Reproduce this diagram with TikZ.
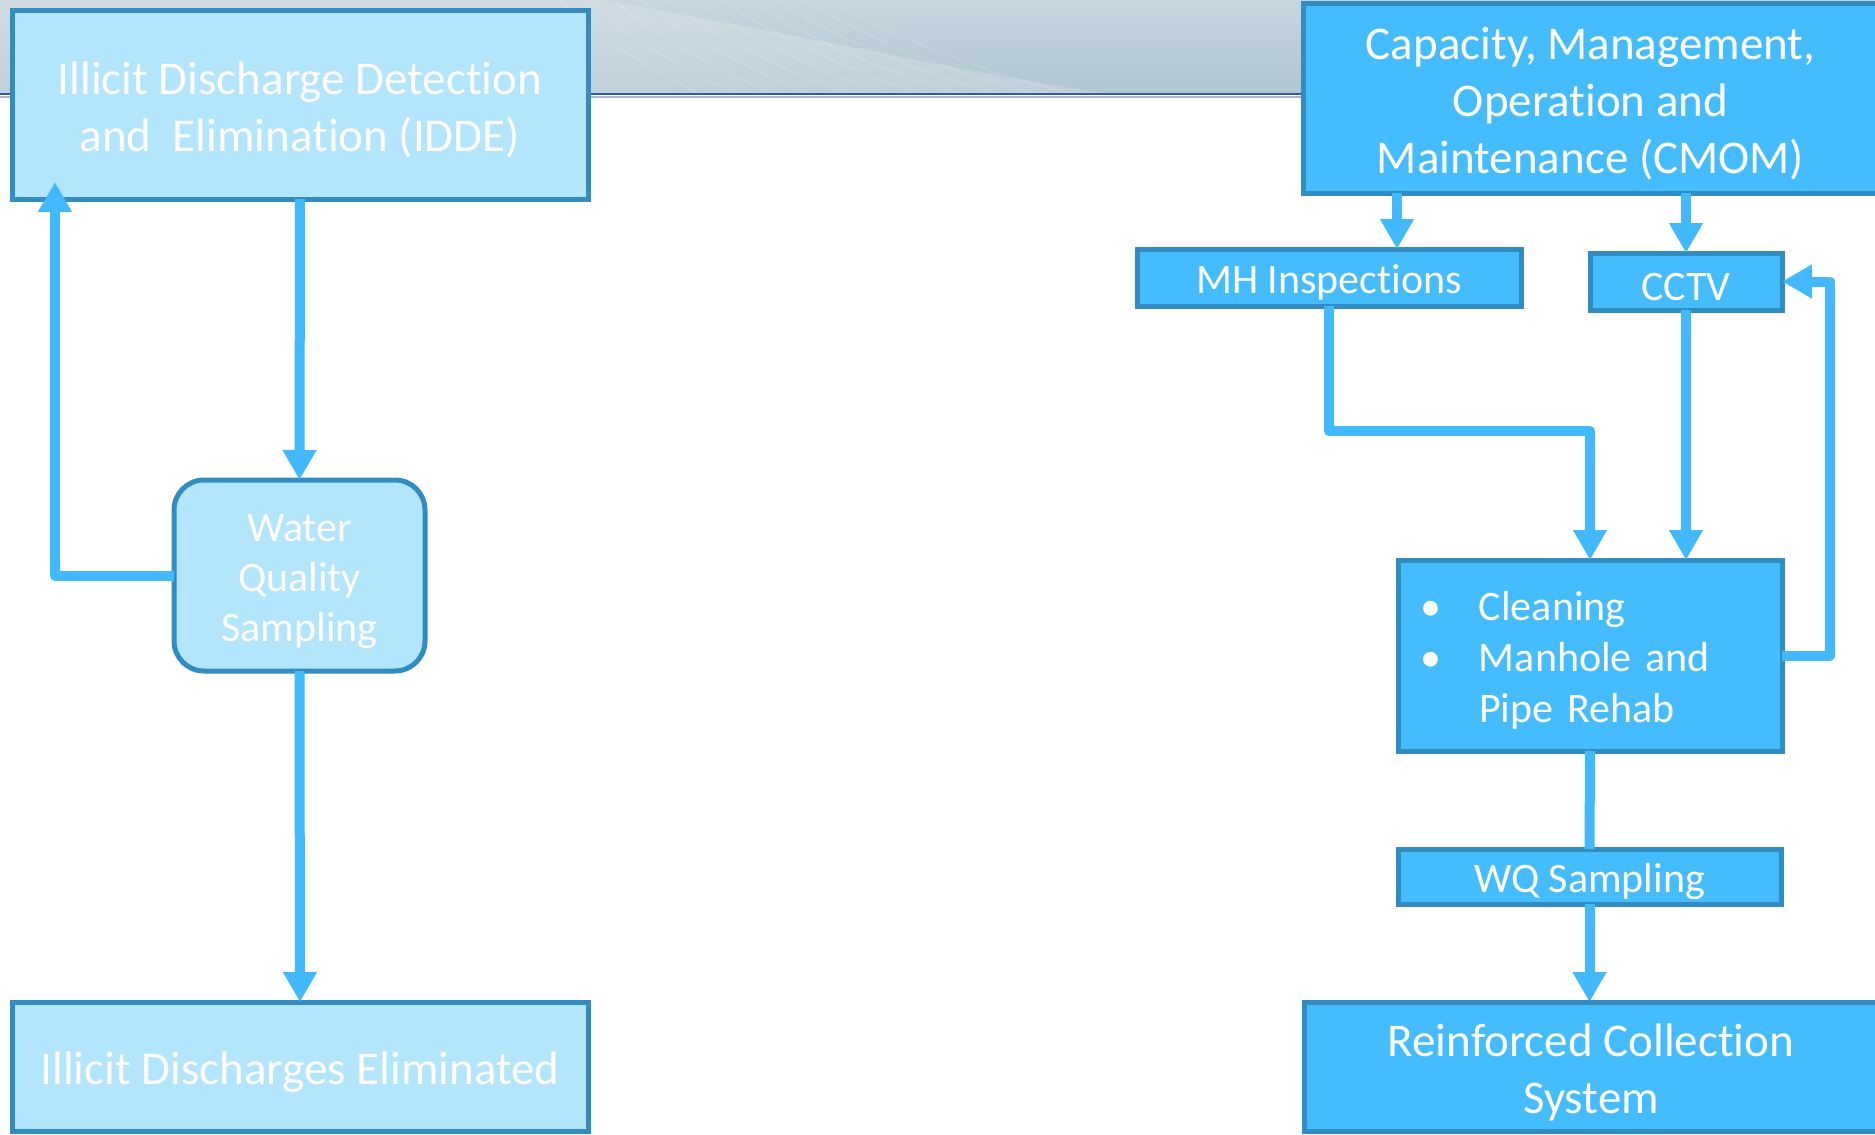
\documentclass[tikz,border=0pt]{standalone}
\usepackage{fontspec}
\setmainfont{Carlito}[Ligatures={NoCommon,NoContextual}]
\usetikzlibrary{arrows.meta,calc}
\definecolor{lightfill}{HTML}{B3E5FC}
\definecolor{boxedge}{HTML}{318DC1}
\definecolor{darkfill}{HTML}{45BCFE}
\definecolor{arrowc}{HTML}{42B9FC}
\definecolor{bannertop}{HTML}{C6D5DE}
\definecolor{bannerbot}{HTML}{B2C5D0}
\definecolor{bannerline}{HTML}{2D5DAA}
\definecolor{bannerdark}{HTML}{5E6C78}
\newcommand{\tp}{\rule{0pt}{0.93em}}
\begin{document}
\begin{tikzpicture}[x=0.5pt,y=-0.5pt,
  box/.style={draw=boxedge, line width=2.5pt, inner sep=0pt, outer sep=0pt, text=white, align=center},
  lbox/.style={box, fill=lightfill},
  dbox/.style={box, fill=darkfill},
  bigfont/.style={font=\fontsize{23.5pt}{28.5pt}\selectfont},
  smallfont/.style={font=\fontsize{21pt}{25.5pt}\selectfont},
  wqsfont/.style={font=\fontsize{21pt}{25pt}\selectfont},
  conn/.style={draw=arrowc, line width=5pt, line join=round},
  arr/.style={conn, -{Triangle[length=15pt,width=16pt]}}]
\clip (0,0) rectangle (1875,1135);
\fill[white] (0,0) rectangle (1875,1135);
% banner
\shade[top color=bannertop, bottom color=bannerbot] (0,0) rectangle (1875,94);
\fill[white, opacity=0.18] (0,0) -- (600,0) .. controls (780,30) and (950,70) .. (1110,94) -- (0,94) -- cycle;
\foreach \r in {0,30,...,300}{
  \draw[white, opacity=0.10, line width=1pt] (560+\r*0.9,0) .. controls (600+\r,40) and (660+\r*1.1,75) .. (700+\r*1.25,94);
}
\draw[bannerline, line width=1pt] (0,94) -- (1875,94);
\draw[bannerdark, opacity=0.5, line width=0.8pt] (0,97) -- (1875,97);

% left column
\node[lbox,bigfont,minimum width=288pt,minimum height=94.5pt] (idde) at (300,104.5)
  {\tp Illicit Discharge Detection\\and\ \ Elimination (IDDE)};
\node[lbox,wqsfont,rounded corners=15pt,minimum width=125.5pt,minimum height=95.5pt] (wqs) at (299.5,575.5)
  {\tp Water\\Quality\\Sampling};
\node[lbox,bigfont,minimum width=288pt,minimum height=64.5pt] (elim) at (300,1066.5)
  {\tp Illicit Discharges Eliminated};

% right column
\node[dbox,bigfont,minimum width=287.5pt,minimum height=95pt] (cmom) at (1590.5,98)
  {\tp Capacity, Management,\\Operation and\\Maintenance (CMOM)};
\node[dbox,smallfont,minimum width=192pt,minimum height=28.5pt] (mh) at (1329,277.5) {\tp MH Inspections};
\node[dbox,smallfont,minimum width=96pt,minimum height=28.5pt] (cctv) at (1686,281.5) {\tp CCTV};
\node[dbox,smallfont,minimum width=192pt,minimum height=95.5pt,align=left,text width=170pt,inner xsep=11pt] (clean) at (1590,655.5)
  {\tp\makebox[29.5pt][l]{\textbullet}Cleaning\\\makebox[29.5pt][l]{\textbullet}Manhole and\\\hspace*{29.5pt}Pipe Rehab};
\node[dbox,smallfont,minimum width=191.5pt,minimum height=27.5pt] (wq) at (1589.5,876.5) {\tp WQ Sampling};
\node[dbox,bigfont,minimum width=287pt,minimum height=64.5pt] (reinf) at (1591,1066.5)
  {\tp Reinforced Collection\\System};

% connectors left
\draw[arr] (idde.south) -- (wqs.north);
\draw[arr] (wqs.south) -- (elim.north);
\draw[arr] (wqs.west) -| ([xshift=21.5pt,yshift=8.5pt]idde.south west);

% connectors right
\coordinate (mhin) at ([xshift=34pt]mh.north);
\draw[arr] (cmom.south -| mhin) -- (mhin);
\draw[arr] (cmom.south -| cctv.north) -- (cctv.north);
\draw[arr] (mh.south) -- ++(0,125) -| (clean.north);
\draw[arr] (cctv.south) -- (cctv.south |- clean.north);
\draw[arr] (clean.east) -- ++(48,0) |- (cctv.east);
\draw[conn] (clean.south) -- (wq.north);
\draw[arr] (wq.south) -- (wq.south |- reinf.north);
\end{tikzpicture}
\end{document}
